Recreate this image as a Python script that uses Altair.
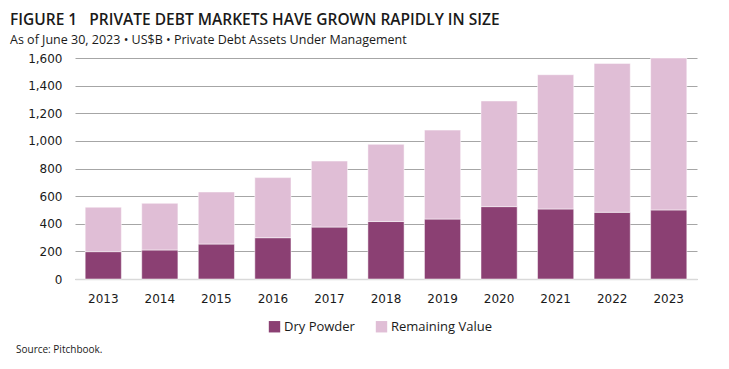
import altair as alt
import pandas as pd

years = ["2013", "2014", "2015", "2016", "2017", "2018", "2019", "2020", "2021", "2022", "2023"]
dry_powder = [198, 210, 253, 299, 376, 416, 434, 524, 507, 483, 500]
remaining_value = [322, 338, 377, 435, 478, 559, 644, 765, 972, 1078, 1100]
series = ["Dry Powder", "Remaining Value"]
colors = ["#8B4073", "#E0BED6"]
y_ticks = [0, 200, 400, 600, 800, 1000, 1200, 1400, 1600]

rows = []
for i, yr in enumerate(years):
    rows.append({"year": yr, "series": series[0], "value": dry_powder[i], "ord": 0})
    rows.append({"year": yr, "series": series[1], "value": remaining_value[i], "ord": 1})
df = pd.DataFrame(rows)

bars = alt.Chart(df).mark_bar(stroke="white", strokeWidth=1, strokeOpacity=0.5).encode(
    x=alt.X("year:N", title=None, sort=years,
            scale=alt.Scale(paddingInner=0.36, paddingOuter=0.18),
            axis=alt.Axis(labelAngle=0, ticks=False, labelPadding=14, domain=True,
                          domainColor="#d9d9d9", domainWidth=1.5,
                          labelFont="DejaVu Sans", labelFontSize=12, labelColor="#1a1a1a")),
    y=alt.Y("value:Q", title=None, stack="zero",
            scale=alt.Scale(domain=[0, 1600], nice=False),
            axis=alt.Axis(values=y_ticks, format=",d", ticks=False, domain=False, labelPadding=13,
                          gridColor="#a6a6a6", gridWidth=1,
                          labelFont="DejaVu Sans", labelFontSize=12, labelColor="#1a1a1a")),
    color=alt.Color("series:N", scale=alt.Scale(domain=series, range=colors),
                    legend=alt.Legend(title=None, orient="none", direction="horizontal",
                                      legendX=193, legendY=262, symbolType="square",
                                      symbolSize=130, symbolStrokeWidth=0, columnPadding=20,
                                      labelFont="Open Sans", labelFontSize=13, labelColor="#1a1a1a",
                                      labelOffset=3)),
    order=alt.Order("ord:Q"),
)

source = alt.Chart(pd.DataFrame({"t": ["Source: Pitchbook."]})).mark_text(
    align="left", baseline="middle", font="Open Sans", fontSize=10, color="#1a1a1a"
).encode(text="t:N", x=alt.value(-59), y=alt.value(292))

chart = alt.layer(bars, source).properties(
    width=622,
    height=221,
    padding={"left": 67, "top": 50, "right": 20, "bottom": 84},
    autosize=alt.AutoSizeParams(type="none"),
    title=alt.TitleParams(
        text="FIGURE 1\u00a0\u00a0\u00a0PRIVATE DEBT MARKETS HAVE GROWN RAPIDLY IN SIZE",
        subtitle="As of June 30, 2023 • US$B • Private Debt Assets Under Management",
        anchor="start", frame="group", dx=-65, offset=6,
        font="Open Sans", fontSize=15.5, fontWeight=600, color="#1a1a1a",
        subtitleFont="Open Sans", subtitleFontSize=12.5, subtitleColor="#1a1a1a",
        subtitlePadding=5,
    ),
).configure_view(stroke=None)

chart.save("out.html", embed_options={"renderer": "svg", "actions": False})
